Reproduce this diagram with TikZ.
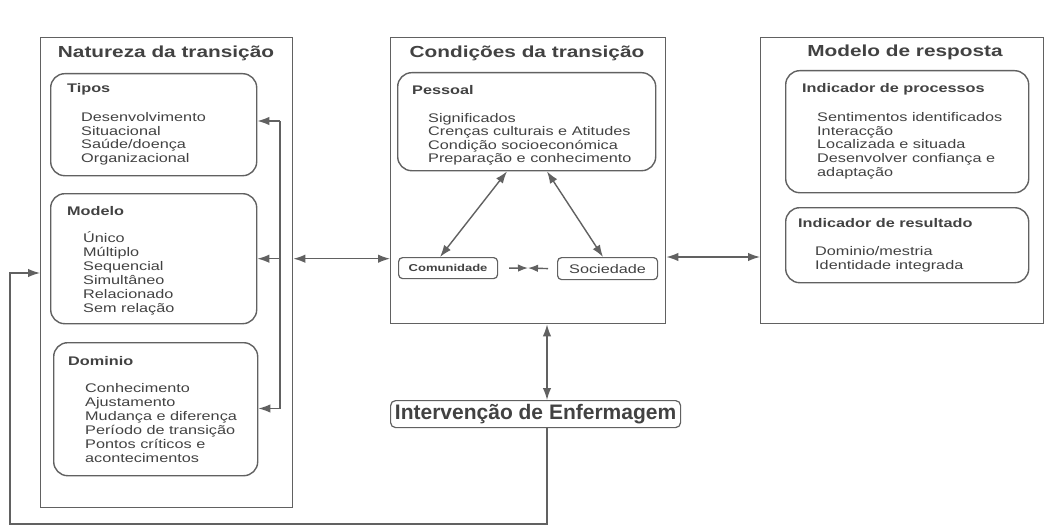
\documentclass[tikz,border=0pt]{standalone}
\usepackage{fontspec}
\setmainfont{Liberation Sans}
\newfontfamily\wf[FakeStretch=1.3]{Liberation Sans}
\usetikzlibrary{arrows.meta,calc}
\definecolor{ink}{gray}{0.26}
\definecolor{ln}{gray}{0.38}
\tikzset{
 x=1pt,y=-1pt,
 boxframe/.style={draw=ln,line width=1.4pt,anchor=north west,inner sep=0pt,rectangle},
 rbox/.style={boxframe,rounded corners=14pt},
 sbox/.style={boxframe,rounded corners=4pt,line width=1.2pt,text=ink},
 bigtitle/.style={text=ink,font=\wf\fontsize{16}{19}\selectfont\bfseries,inner sep=0pt},
 subtitle/.style={text=ink,font=\wf\fontsize{12.5}{14}\selectfont\bfseries,inner sep=0pt,anchor=base west},
 item/.style={text=ink,font=\wf\fontsize{12.5}{14}\selectfont,inner sep=0pt,anchor=base west},
 conn/.style={draw=ln,line width=1.4pt},
 arr/.style={conn,-{Latex[length=12pt,width=8.5pt]}},
 sarr/.style={conn,-{Latex[length=10pt,width=7.5pt]}},
 dbl/.style={conn,{Latex[length=12pt,width=8.5pt]}-{Latex[length=12pt,width=8.5pt]}},
}
\begin{document}
\begin{tikzpicture}
\path[use as bounding box,fill=white] (0,0) rectangle (1045,527);

% ---------- left: Natureza da transicao
\node[boxframe,minimum width=252pt,minimum height=470pt] (nat) at (40,37) {};
\node[bigtitle] (natT) at (166,53) {Natureza da transição};

\node[rbox,minimum width=206pt,minimum height=102pt] (tip) at (50,73) {};
\node[subtitle] (tipT) at (67,92.5) {Tipos};
\foreach \t [count=\i from 0] in {Desenvolvimento,Situacional,Saúde/doença,Organizacional}
  \node[item] (tipI\i) at (81,{121.5+13.7*\i}) {\t};

\node[rbox,minimum width=206pt,minimum height=130pt] (mdl) at (50,193) {};
\node[subtitle] (mdlT) at (67,215) {Modelo};
\foreach \t [count=\i from 0] in {Único,Múltiplo,Sequencial,Simultâneo,Relacionado,Sem relação}
  \node[item] (mdlI\i) at (83,{242.5+14*\i}) {\t};

\node[rbox,minimum width=204pt,minimum height=133pt] (dom) at (53,342) {};
\node[subtitle] (domT) at (68,365) {Dominio};
\foreach \t [count=\i from 0] in {Conhecimento,Ajustamento,Mudança e diferença,Período de transição,Pontos críticos e,acontecimentos}
  \node[item] (domI\i) at (85,{392.5+14*\i}) {\t};

% ---------- centre: Condicoes da transicao
\node[boxframe,minimum width=275pt,minimum height=286pt] (cen) at (390,37) {};
\node[bigtitle] (cenT) at (527,53) {Condições da transição};

\node[rbox,minimum width=258pt,minimum height=98pt] (pes) at (397,72) {};
\node[subtitle] (pesT) at (412,94.5) {Pessoal};
\foreach \t [count=\i from 0] in {Significados,Crenças culturais e Atitudes,Condição socioeconómica,Preparação e conhecimento}
  \node[item] (pesI\i) at (428,{122+13.5*\i}) {\t};

\node[sbox,minimum width=99pt,minimum height=21pt,font=\wf\fontsize{10}{12}\selectfont\bfseries] (com) at (398,257) {Comunidade};
\node[sbox,minimum width=100pt,minimum height=22pt,font=\wf\fontsize{12.5}{14}\selectfont] (soc) at (557,257) {Sociedade};

% ---------- right: Modelo de resposta
\node[boxframe,minimum width=283pt,minimum height=286pt] (rsp) at (760,37) {};
\node[bigtitle] (rspT) at (905,52) {Modelo de resposta};

\node[rbox,minimum width=243pt,minimum height=122pt] (prc) at (785,70) {};
\node[subtitle] (prcT) at (802,92.5) {Indicador de processos};
\foreach \t [count=\i from 0] in {Sentimentos identificados,Interacção,Localizada e situada,Desenvolver confiança e,adaptação}
  \node[item] (prcI\i) at (817,{121.5+13.7*\i}) {\t};

\node[rbox,minimum width=243pt,minimum height=75pt] (res) at (785,207) {};
\node[subtitle] (resT) at (798,227.5) {Indicador de resultado};
\foreach \t [count=\i from 0] in {Dominio/mestria,Identidade integrada}
  \node[item] (resI\i) at (815,{255.5+13.5*\i}) {\t};

% ---------- Intervencao
\node[sbox,rounded corners=5pt,minimum width=290pt,minimum height=27pt,font=\fontsize{21}{24}\selectfont\bfseries] (int) at (390,400) {Intervenção de Enfermagem};

% ---------- connectors
% bracket inside left box
\coordinate (bt) at (280,121);
\coordinate (bb) at (280,408.5);
\draw[conn] (bt) -- (bb);
\draw[arr] (bt) -- (tip.east |- bt);
\draw[arr] (mdl.east -| bt) -- (mdl.east);
\draw[arr] (bb) -- (dom.east |- bb);

% left <-> centre
\draw[dbl] (cen.west |- mdl.east) -- (nat.east |- mdl.east);
% centre <-> right
\coordinate (ry) at (700,257);
\draw[dbl] (cen.east |- ry) -- (rsp.west |- ry);

% inside centre
\draw[dbl] ($(pes.south west)+(110,0)$) -- ($(com.north west)+(42,0)$);
\draw[dbl] ($(pes.south west)+(150,0)$) -- ($(soc.north west)+(46,0)$);
\coordinate (mid) at (528,268);
\draw[sarr] ([xshift=11pt]com.east) -- (mid);
\draw[sarr] ([xshift=-9pt]soc.west) -- (mid);

% centre <-> intervention
\coordinate (vx) at (547,0);
\draw[dbl] (cen.south -| vx) -- (int.north -| vx);

% feedback loop
\coordinate (fbr) at (547,524);
\coordinate (fbl) at (10,524);
\coordinate (fbt) at (10,273);
\draw[arr] (int.south -| vx) -- (fbr) -- (fbl) -- (fbt) -- (nat.west |- fbt);
\end{tikzpicture}
\end{document}
